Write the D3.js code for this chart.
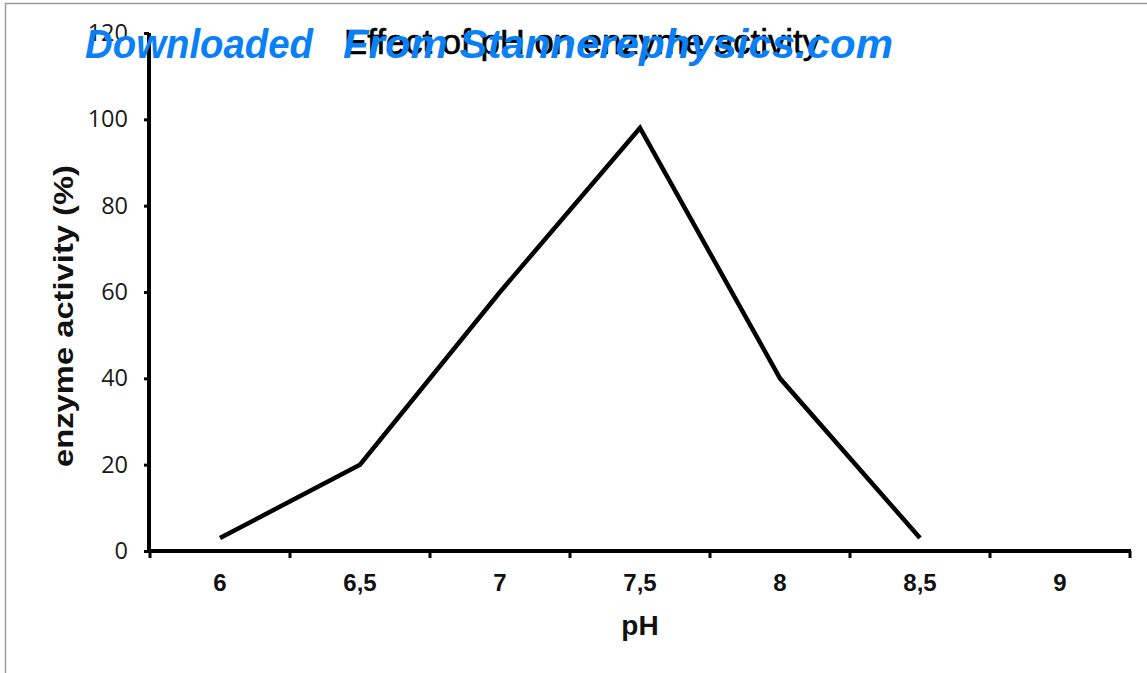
<!DOCTYPE html>
<html>
<head>
<meta charset="utf-8">
<script src="https://cdn.jsdelivr.net/npm/d3@7"></script>
<style>
  html, body { margin: 0; padding: 0; background: #fff; }
  svg { display: block; }
</style>
</head>
<body>
<svg id="chart" width="1147" height="673"></svg>
<script>
const categories = ["6", "6,5", "7", "7,5", "8", "8,5", "9"];
const activity = [3, 20, 60, 98, 40, 3, null];
const yTicks = [0, 20, 40, 60, 80, 100, 120];
const titleText = "Effect of pH on enzyme activity";
const xTitle = "pH";
const yTitle = "enzyme activity (%)";
const watermarkParts = ["Downloaded", "From Stannerephysics.com"];

const svg = d3.select("#chart");

// frame
svg.append("rect")
  .attr("x", 5.5).attr("y", 3.5)
  .attr("width", 1200).attr("height", 720)
  .attr("fill", "none").attr("stroke", "#9a9a9a").attr("stroke-width", 1.5);

const x = d3.scaleBand().domain(categories).range([150, 1130]).padding(0);
const y = d3.scaleLinear().domain([0, 120]).range([551, 33]);

// y axis
const yAxis = svg.append("g").attr("transform", "translate(149,0)")
  .call(d3.axisLeft(y).tickValues(yTicks).tickSize(5).tickPadding(16));
yAxis.select(".domain").remove();
yAxis.selectAll(".tick line").attr("stroke", "#000").attr("stroke-width", 3);
yAxis.selectAll(".tick text")
  .attr("font-family", "'Open Sans', sans-serif")
  .attr("font-size", 23.5).attr("fill", "#1a1a1a");

svg.append("line").attr("x1", 149).attr("x2", 149)
  .attr("y1", y(120)).attr("y2", y(0) + 2)
  .attr("stroke", "#000").attr("stroke-width", 4);

// x axis
const xAxis = svg.append("g").attr("transform", "translate(0,551)")
  .call(d3.axisBottom(x).tickSize(0).tickPadding(23));
xAxis.select(".domain").remove();
xAxis.selectAll(".tick text")
  .attr("font-family", "'Liberation Sans', Arial, sans-serif")
  .attr("font-weight", "bold")
  .attr("font-size", 24).attr("fill", "#111");

const boundaries = categories.map(c => x(c)).concat([x(categories[categories.length - 1]) + x.bandwidth()]);
svg.append("g").selectAll("line").data(boundaries).join("line")
  .attr("x1", d => d).attr("x2", d => d)
  .attr("y1", y(0)).attr("y2", y(0) + 7)
  .attr("stroke", "#000").attr("stroke-width", 3);

svg.append("line").attr("x1", 147).attr("x2", 1131)
  .attr("y1", y(0)).attr("y2", y(0))
  .attr("stroke", "#000").attr("stroke-width", 4);

// data line
const line = d3.line()
  .defined(d => d.v !== null)
  .x(d => x(d.c) + x.bandwidth() / 2)
  .y(d => y(d.v));
svg.append("path")
  .datum(categories.map((c, i) => ({ c: c, v: activity[i] })))
  .attr("d", line)
  .attr("fill", "none").attr("stroke", "#000")
  .attr("stroke-width", 4.5).attr("stroke-linejoin", "miter");

// titles
svg.append("text").attr("x", 582).attr("y", 54)
  .attr("text-anchor", "middle")
  .attr("font-family", "'Liberation Sans', Arial, sans-serif")
  .attr("font-size", 35).attr("fill", "#000")
  .attr("stroke", "#000").attr("stroke-width", 0.6)
  .attr("textLength", 476).attr("lengthAdjust", "spacingAndGlyphs")
  .text(titleText);

svg.append("text").attr("x", 640).attr("y", 635)
  .attr("text-anchor", "middle")
  .attr("font-family", "'Liberation Sans', Arial, sans-serif")
  .attr("font-weight", "bold")
  .attr("font-size", 28).attr("fill", "#111")
  .text(xTitle);

svg.append("text")
  .attr("transform", "translate(73,316) rotate(-90)")
  .attr("text-anchor", "middle")
  .attr("font-family", "'Liberation Sans', Arial, sans-serif")
  .attr("font-weight", "bold")
  .attr("font-size", 27).attr("fill", "#111")
  .attr("textLength", 302).attr("lengthAdjust", "spacingAndGlyphs")
  .text(yTitle);

// watermark
const wm = [{ t: watermarkParts[0], x: 85, len: 228 }, { t: watermarkParts[1], x: 343, len: 550 }];
svg.append("g").selectAll("text").data(wm).join("text")
  .attr("x", d => d.x).attr("y", 58)
  .attr("font-family", "'Liberation Sans', Arial, sans-serif")
  .attr("font-weight", "bold").attr("font-style", "italic")
  .attr("font-size", 41.5).attr("fill", "#0a80f7")
  .attr("textLength", d => d.len).attr("lengthAdjust", "spacingAndGlyphs")
  .text(d => d.t);
</script>
</body>
</html>
